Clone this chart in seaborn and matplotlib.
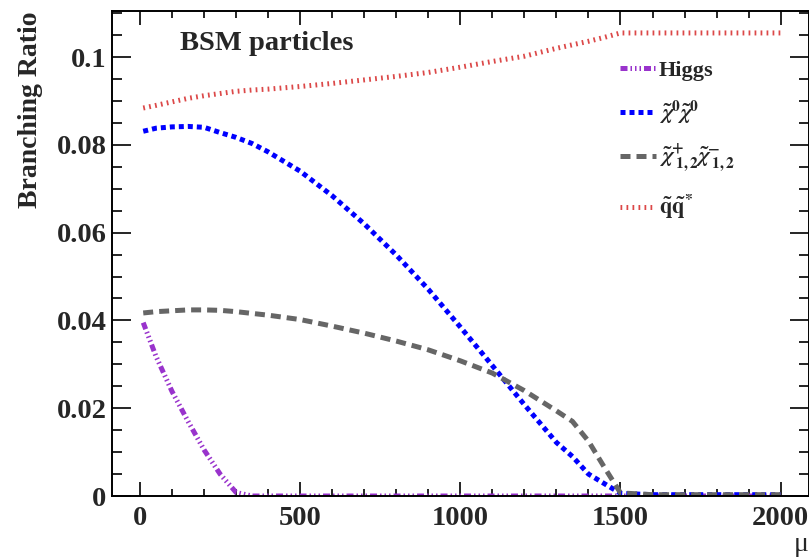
import pandas as pd
import seaborn as sns
from matplotlib import pyplot as plt
from matplotlib.lines import Line2D
from matplotlib.ticker import MultipleLocator

# mu values (GeV) and branching ratios
mu = [10, 50, 100, 150, 200, 250, 300, 350, 400, 500, 600, 700, 800, 900,
      1000, 1100, 1200, 1300, 1350, 1400, 1450, 1500, 1600, 1700, 1800, 1900, 2000]
br_higgs = [0.0395, 0.0318, 0.0238, 0.0170, 0.0105, 0.0050, 0.0008, 0.0, 0.0,
            0.0, 0.0, 0.0, 0.0, 0.0, 0.0, 0.0, 0.0, 0.0, 0.0, 0.0, 0.0, 0.0,
            0.0, 0.0, 0.0, 0.0, 0.0]
br_neutralino = [0.0831, 0.0838, 0.0841, 0.0842, 0.0840, 0.0828, 0.0817, 0.0803,
                 0.0784, 0.0740, 0.0684, 0.0620, 0.0549, 0.0471, 0.0385, 0.0297,
                 0.0208, 0.0122, 0.0090, 0.0050, 0.0028, 0.0006, 0.0003, 0.0003,
                 0.0003, 0.0003, 0.0003]
br_chargino = [0.0417, 0.0420, 0.0422, 0.0424, 0.0424, 0.0423, 0.0420, 0.0416,
               0.0412, 0.0402, 0.0387, 0.0371, 0.0353, 0.0333, 0.0308, 0.0280,
               0.0240, 0.0194, 0.0170, 0.0125, 0.0065, 0.0007, 0.0003, 0.0003,
               0.0003, 0.0003, 0.0003]
br_squark = [0.0884, 0.0890, 0.0898, 0.0906, 0.0912, 0.0917, 0.0922, 0.0925,
             0.0927, 0.0933, 0.0940, 0.0948, 0.0956, 0.0965, 0.0977, 0.0990,
             0.1002, 0.1020, 0.1028, 0.1036, 0.1045, 0.1055, 0.1055, 0.1055,
             0.1055, 0.1055, 0.1055]

labels = ["Higgs",
          r"$\tilde{\chi}^{\mathbf{0}}\tilde{\chi}^{\mathbf{0}}$",
          r"$\tilde{\chi}^{+}_{\ \mathbf{1,2}}\tilde{\chi}^{-}_{\ \mathbf{1,2}}$",
          r"$\tilde{\mathbf{q}}\tilde{\mathbf{q}}^{*}$"]
y_ticks = [0, 0.02, 0.04, 0.06, 0.08, 0.1]
y_tick_labels = ["0", "0.02", "0.04", "0.06", "0.08", "0.1"]
x_ticks = [0, 500, 1000, 1500, 2000]

sns.set_theme(style="ticks")
plt.rcParams['font.family'] = ['Liberation Serif', 'DejaVu Serif']
plt.rcParams['font.weight'] = 'bold'
plt.rcParams['mathtext.fontset'] = 'stix'

df = pd.DataFrame({"mu": mu, "higgs": br_higgs, "neutralino": br_neutralino,
                   "chargino": br_chargino, "squark": br_squark})

styles = {
    "higgs": dict(color="#9933cc", linestyle=(0, (1.4, 0.6, 0.3, 0.6, 0.3, 0.6, 0.3, 0.6))),
    "neutralino": dict(color="#0000ff", linestyle=(0, (1.0, 0.8))),
    "chargino": dict(color="#666666", linestyle=(0, (2.0, 1.2))),
    "squark": dict(color="#dc4848", linestyle=(0, (0.35, 0.85))),
}

fig = plt.figure(figsize=(8.09, 5.59), dpi=100)
ax = fig.add_axes([112 / 809, 63 / 559, 696.5 / 809, 485 / 559])

for col in ["higgs", "neutralino", "chargino", "squark"]:
    sns.lineplot(data=df, x="mu", y=col, ax=ax, lw=3.6, **styles[col])

ax.set_xlim(-87.5, 2087)
ax.set_ylim(0, 0.1105)
ax.set_xticks(x_ticks)
ax.set_xticklabels([str(t) for t in x_ticks])
ax.set_yticks(y_ticks)
ax.set_yticklabels(y_tick_labels)
ax.xaxis.set_minor_locator(MultipleLocator(100))
ax.yaxis.set_minor_locator(MultipleLocator(0.005))
ax.tick_params(which="both", direction="in", top=True, right=True,
               labelsize=20.5, width=1.2, color="black")
ax.tick_params(axis="x", which="major", length=10, pad=7)
ax.tick_params(axis="x", which="minor", length=5)
ax.tick_params(axis="y", which="major", length=14, pad=4)
ax.tick_params(axis="y", which="minor", length=7)
for s in ax.spines.values():
    s.set_color("black")
    s.set_linewidth(1.4)

ax.set_ylabel("Branching Ratio", fontsize=20, fontweight="bold", loc="top", labelpad=10)
ax.set_xlabel("μ", fontsize=20, loc="right", labelpad=1)

fig.text(180 / 809, 1 - 44 / 559, "BSM particles", fontsize=20.5,
         fontweight="bold", ha="left", va="center")

handles = [Line2D([], [], lw=3.6, **styles[c])
           for c in ["higgs", "neutralino", "chargino", "squark"]]
leg = ax.legend(handles, labels, loc="upper left", frameon=False,
                bbox_to_anchor=(600 / 809, 1 - 40 / 559),
                bbox_transform=fig.transFigure, fontsize=16,
                handlelength=1.6, handletextpad=0.15, labelspacing=0.8)
for t in leg.get_texts():
    t.set_fontweight("bold")

fig.savefig("out.png", dpi=100)
